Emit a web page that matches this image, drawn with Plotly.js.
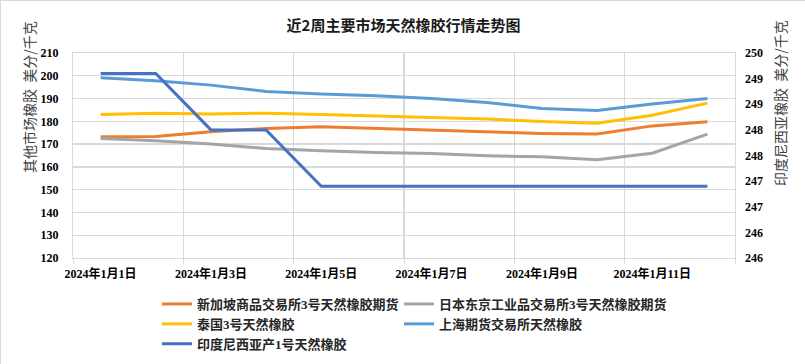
<!DOCTYPE html>
<html>
<head>
<meta charset="utf-8">
<script src="https://cdn.plot.ly/plotly-3.0.1.min.js"></script>
<style>
  html, body { margin: 0; padding: 0; background: #fff; }
  #chart { width: 805px; height: 364px; box-sizing: border-box; border: 1px solid #d9d9d9; }
</style>
</head>
<body>
<div id="chart"></div>
<script>
// ---- data ----
const dates = ['2024-01-01','2024-01-02','2024-01-03','2024-01-04','2024-01-05','2024-01-06',
               '2024-01-07','2024-01-08','2024-01-09','2024-01-10','2024-01-11','2024-01-12'];
const seriesNames = ['新加坡商品交易所3号天然橡胶期货','日本东京工业品交易所3号天然橡胶期货',
                     '泰国3号天然橡胶','上海期货交易所天然橡胶','印度尼西亚产1号天然橡胶'];
const sgx   = [173.2,173.3,175.4,176.9,177.6,176.9,176.3,175.3,174.7,174.4,178.0,179.8];
const tocom = [172.5,171.5,170.0,168.1,167.1,166.3,165.9,164.9,164.4,163.1,166.0,174.4];
const thai  = [183.0,183.5,183.2,183.6,183.0,182.3,181.9,181.0,179.9,179.2,182.7,188.0];
const shfe  = [199.1,197.8,195.9,193.1,192.0,191.2,190.0,188.3,185.6,184.8,187.6,190.0];
const indo  = [249.6,249.6,248.5,248.5,247.4,247.4,247.4,247.4,247.4,247.4,247.4,247.4];
const xTickVals  = ['2024-01-01','2024-01-03','2024-01-05','2024-01-07','2024-01-09','2024-01-11'];
const xTickText  = ['2024年1月1日','2024年1月3日','2024年1月5日','2024年1月7日','2024年1月9日','2024年1月11日'];
const y2TickVals = [246,246.5,247,247.5,248,248.5,249,249.5,250];
const y2TickText = ['246','246','247','247','248','248','249','249','250'];
const chartTitle = '近2周主要市场天然橡胶行情走势图';
const leftTitle  = '其他市场橡胶\u00a0\u00a0美分/千克';
const rightTitle = '印度尼西亚橡胶\u00a0\u00a0美分/千克';

const colors = ['#ED7D31','#A5A5A5','#FFC000','#5B9BD5','#4472C4'];
const legendIds = ['legend','legend2','legend','legend2','legend'];
const FONT = '"Liberation Serif", "Noto Sans CJK SC", serif';
const CJK = '"Noto Sans CJK SC", sans-serif';

const ys = [sgx, tocom, thai, shfe, indo];
const traces = ys.map((y, i) => ({
  type: 'scatter', mode: 'lines', x: dates, y: y, name: seriesNames[i],
  yaxis: i === 4 ? 'y2' : 'y', legend: legendIds[i],
  line: {color: colors[i], width: 3}
}));

const legendFont = {family: FONT, size: 13, color: '#262626', weight: 'bold'};
const layout = {
  width: 805, height: 364,
  margin: {l: 72, r: 71, t: 52, b: 107, autoexpand: false},
  paper_bgcolor: '#fff', plot_bgcolor: '#fff',
  title: {text: '<b>' + chartTitle + '</b>', font: {family: CJK, size: 15, color: '#1a1a1a'},
          x: 0.5, xanchor: 'center', y: 1 - 25/364, yanchor: 'middle', yref: 'container'},
  showlegend: true,
  legend: {orientation: 'v', xref: 'container', yref: 'container', x: 156/805, xanchor: 'left',
           y: 1 - 288/364, yanchor: 'top', font: legendFont, bgcolor: 'rgba(0,0,0,0)'},
  legend2: {orientation: 'v', xref: 'container', yref: 'container', x: 398/805, xanchor: 'left',
           y: 1 - 288/364, yanchor: 'top', font: legendFont, bgcolor: 'rgba(0,0,0,0)'},
  xaxis: {
    type: 'date', range: ['2023-12-31 12:00', '2024-01-12 12:00'], automargin: false,
    tickvals: xTickVals, ticktext: xTickText, ticks: '', showgrid: false, ticklabelstandoff: 5,
    tickfont: {family: FONT, size: 12, color: '#000', weight: 'bold'},
    showline: true, linecolor: '#d9d9d9', linewidth: 1, mirror: true,
    minor: {tick0: '2023-12-31 12:00', dtick: 2*86400000, showgrid: true, gridcolor: '#d9d9d9',
            gridwidth: 1.3, ticks: 'outside', ticklen: 5, tickcolor: '#d9d9d9'},
    zeroline: false, fixedrange: true
  },
  yaxis: {
    range: [120, 210], dtick: 10, tick0: 120, showgrid: true, gridcolor: '#d9d9d9', gridwidth: 1.3,
    tickfont: {family: FONT, size: 12, color: '#000', weight: 'bold'}, ticks: '', ticklabelstandoff: 11,
    showline: true, linecolor: '#d9d9d9', mirror: true, zeroline: false, automargin: false
  },
  yaxis2: {
    overlaying: 'y', side: 'right', range: [246, 250], tickvals: y2TickVals, ticktext: y2TickText,
    showgrid: false, zeroline: false, ticks: '', ticklabelstandoff: 9, automargin: false,
    tickfont: {family: FONT, size: 12, color: '#000', weight: 'bold'}
  },
  annotations: [
    {text: leftTitle, xref: 'paper', yref: 'paper', x: 0, xshift: -44, y: (257 - 96)/205,
     xanchor: 'center', yanchor: 'middle', textangle: -90, showarrow: false,
     font: {family: CJK, size: 14, color: '#404040'}},
    {text: rightTitle, xref: 'paper', yref: 'paper', x: 1, xshift: 45, y: (257 - 102)/205,
     xanchor: 'center', yanchor: 'middle', textangle: -90, showarrow: false,
     font: {family: CJK, size: 14, color: '#404040'}}
  ]
};

Plotly.newPlot('chart', traces, layout, {displayModeBar: false, staticPlot: true});
</script>
</body>
</html>
